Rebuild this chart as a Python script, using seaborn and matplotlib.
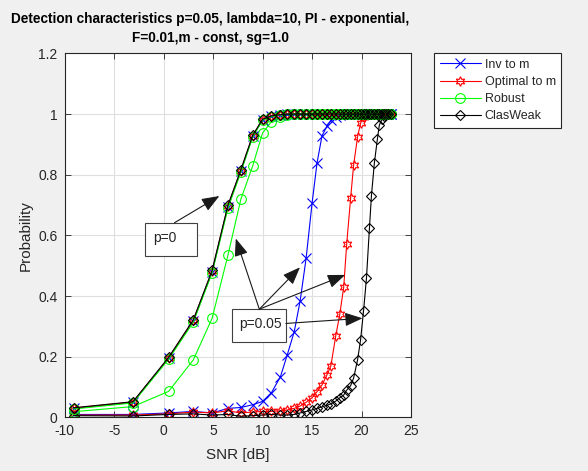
import matplotlib
matplotlib.use("Agg")
import matplotlib.pyplot as plt
from matplotlib.lines import Line2D
from matplotlib.patches import Rectangle
import seaborn as sns

# SNR grid [dB]
snr_db = [-9.1, -3.1, 0.5, 3.0, 4.9, 6.5, 7.8, 9.0, 10.0, 10.9,
          11.8, 12.5, 13.2, 13.8, 14.4, 15.0, 15.5, 16.0, 16.5, 16.9,
          17.4, 17.8, 18.2, 18.5, 18.9, 19.2, 19.6, 19.9, 20.2, 20.5,
          20.8, 21.0, 21.3, 21.6, 21.8, 22.1, 22.3, 22.5, 22.7, 23.0]

# p = 0 (all four detectors almost coincide)
inv_p0 = [0.030, 0.050, 0.195, 0.318, 0.480, 0.695, 0.812, 0.927, 0.982, 0.993,
          0.998, 1.0, 1.0, 1.0, 1.0, 1.0, 1.0, 1.0, 1.0, 1.0,
          1.0, 1.0, 1.0, 1.0, 1.0, 1.0, 1.0, 1.0, 1.0, 1.0,
          1.0, 1.0, 1.0, 1.0, 1.0, 1.0, 1.0, 1.0, 1.0, 1.0]
opt_p0 = [0.031, 0.051, 0.196, 0.320, 0.482, 0.697, 0.814, 0.928, 0.982, 0.994,
          0.998, 1.0, 1.0, 1.0, 1.0, 1.0, 1.0, 1.0, 1.0, 1.0,
          1.0, 1.0, 1.0, 1.0, 1.0, 1.0, 1.0, 1.0, 1.0, 1.0,
          1.0, 1.0, 1.0, 1.0, 1.0, 1.0, 1.0, 1.0, 1.0, 1.0]
rob_p0 = [0.028, 0.048, 0.192, 0.314, 0.477, 0.690, 0.808, 0.924, 0.980, 0.992,
          0.997, 1.0, 1.0, 1.0, 1.0, 1.0, 1.0, 1.0, 1.0, 1.0,
          1.0, 1.0, 1.0, 1.0, 1.0, 1.0, 1.0, 1.0, 1.0, 1.0,
          1.0, 1.0, 1.0, 1.0, 1.0, 1.0, 1.0, 1.0, 1.0, 1.0]
cls_p0 = [0.032, 0.052, 0.198, 0.322, 0.485, 0.700, 0.816, 0.930, 0.983, 0.994,
          0.998, 1.0, 1.0, 1.0, 1.0, 1.0, 1.0, 1.0, 1.0, 1.0,
          1.0, 1.0, 1.0, 1.0, 1.0, 1.0, 1.0, 1.0, 1.0, 1.0,
          1.0, 1.0, 1.0, 1.0, 1.0, 1.0, 1.0, 1.0, 1.0, 1.0]

# p = 0.05
inv_p05 = [0.010, 0.010, 0.015, 0.020, 0.015, 0.030, 0.033, 0.042, 0.053, 0.082,
           0.134, 0.207, 0.283, 0.385, 0.525, 0.706, 0.838, 0.928, 0.960, 0.980,
           0.990, 0.996, 1.0, 1.0, 1.0, 1.0, 1.0, 1.0, 1.0, 1.0,
           1.0, 1.0, 1.0, 1.0, 1.0, 1.0, 1.0, 1.0, 1.0, 1.0]
opt_p05 = [0.008, 0.008, 0.012, 0.018, 0.015, 0.022, 0.015, 0.018, 0.020, 0.020,
           0.022, 0.025, 0.030, 0.038, 0.050, 0.065, 0.085, 0.107, 0.140, 0.170,
           0.270, 0.340, 0.430, 0.572, 0.724, 0.832, 0.925, 0.970, 0.990, 0.997,
           1.0, 1.0, 1.0, 1.0, 1.0, 1.0, 1.0, 1.0, 1.0, 1.0]
rob_p05 = [0.019, 0.036, 0.086, 0.190, 0.327, 0.535, 0.719, 0.829, 0.938, 0.975,
           0.990, 0.997, 1.0, 1.0, 1.0, 1.0, 1.0, 1.0, 1.0, 1.0,
           1.0, 1.0, 1.0, 1.0, 1.0, 1.0, 1.0, 1.0, 1.0, 1.0,
           1.0, 1.0, 1.0, 1.0, 1.0, 1.0, 1.0, 1.0, 1.0, 1.0]
cls_p05 = [0.006, 0.005, 0.010, 0.012, 0.008, 0.010, 0.004, 0.006, 0.008, 0.010,
           0.008, 0.008, 0.010, 0.015, 0.020, 0.025, 0.030, 0.035, 0.040, 0.045,
           0.054, 0.065, 0.074, 0.090, 0.105, 0.130, 0.190, 0.255, 0.350, 0.460,
           0.625, 0.731, 0.840, 0.917, 0.964, 0.985, 0.995, 1.0, 1.0, 1.0]

method_names = ["Inv to m", "Optimal to m", "Robust", "ClasWeak"]

sns.set_theme(style="whitegrid")
plt.rcParams["font.family"] = ["Liberation Sans", "DejaVu Sans"]
plt.rcParams["axes.unicode_minus"] = False

styles = {
    "Inv to m": dict(color="#0000ff", marker="x", markersize=7),
    "Optimal to m": dict(color="#ff0000", marker=(6, 1, 0), markersize=7),
    "Robust": dict(color="#00ff00", marker="o", markersize=7),
    "ClasWeak": dict(color="#000000", marker="D", markersize=5.5),
}

series = [
    ("Inv to m", inv_p05), ("Optimal to m", opt_p05),
    ("Robust", rob_p05), ("ClasWeak", cls_p05),
    ("Inv to m", inv_p0), ("Optimal to m", opt_p0),
    ("Robust", rob_p0), ("ClasWeak", cls_p0),
]

fig = plt.figure(figsize=(5.88, 4.71), dpi=100, facecolor="#f0f0f0")
ax = fig.add_axes([0.110, 0.1136, 0.589, 0.773])
ax.set_facecolor("white")

for name, vals in series:
    st = styles[name]
    sns.lineplot(x=snr_db, y=vals, ax=ax, color=st["color"], marker=st["marker"],
                 markersize=st["markersize"], markerfacecolor="none",
                 markeredgecolor=st["color"], markeredgewidth=0.8,
                 linewidth=0.8, legend=False)

ax.set_xlim(-10, 25)
ax.set_ylim(0, 1.2)
ax.set_xticks([-10, -5, 0, 5, 10, 15, 20, 25])
ax.set_yticks([0, 0.2, 0.4, 0.6, 0.8, 1.0, 1.2])
ax.set_yticklabels(["0", "0.2", "0.4", "0.6", "0.8", "1", "1.2"])
ax.grid(True, color="#dfdfdf", linewidth=0.8)
for sp in ax.spines.values():
    sp.set_color("#262626")
    sp.set_linewidth(0.8)
ax.tick_params(direction="in", length=4, width=0.6, colors="#262626",
               labelsize=10, labelcolor="#262626", top=True, right=True,
               bottom=True, left=True, pad=5)
ax.set_xlabel("SNR [dB]", fontsize=11, color="#262626", labelpad=7)
ax.set_ylabel("Probability", fontsize=11, color="#262626", labelpad=4)

fig.text(0.358, 1 - 19 / 471, "Detection characteristics p=0.05, lambda=10, PI - exponential,",
         ha="center", va="center", fontsize=9.8, fontweight="bold", color="black")
fig.text(0.358, 1 - 38 / 471, "F=0.01,m - const, sg=1.0",
         ha="center", va="center", fontsize=9.8, fontweight="bold", color="black")

# legend
handles = [Line2D([0], [0], color=styles[n]["color"], marker=styles[n]["marker"],
                  markersize=styles[n]["markersize"], markerfacecolor="none",
                  markeredgewidth=0.8, linewidth=0.8) for n in method_names]
leg = fig.legend(handles, method_names, loc="upper left",
                 bbox_to_anchor=(434 / 588, 1 - 53 / 471), fontsize=9,
                 frameon=True, fancybox=False, framealpha=1, edgecolor="#262626",
                 handlelength=3.3, handletextpad=0.3, borderpad=0.45,
                 labelspacing=0.42, borderaxespad=0)
leg.get_frame().set_linewidth(0.8)

# text boxes and arrows
arrow = dict(arrowstyle="-|>,head_length=0.9,head_width=0.35", color="#1a1a1a",
             lw=0.8, shrinkA=0, shrinkB=0)
ax.add_patch(Rectangle((-1.85, 0.532), 5.25, 0.109, facecolor="white",
                       edgecolor="#404040", linewidth=0.8, zorder=5))
ax.text(-1.1, 0.592, "p=0", fontsize=10, ha="left", va="center", zorder=6, color="#262626")
ax.annotate("", xy=(5.63, 0.730), xytext=(1.10, 0.642), arrowprops=arrow, zorder=6)

ax.add_patch(Rectangle((6.91, 0.248), 5.45, 0.109, facecolor="white",
                       edgecolor="#404040", linewidth=0.8, zorder=5))
ax.text(7.65, 0.307, "p=0.05", fontsize=10, ha="left", va="center", zorder=6, color="#262626")
tail = (9.67, 0.357)
for tip in [(7.29, 0.590), (13.78, 0.495), (18.35, 0.470)]:
    ax.annotate("", xy=tip, xytext=tail, arrowprops=arrow, zorder=6)
ax.annotate("", xy=(20.1, 0.327), xytext=(12.36, 0.310), arrowprops=arrow, zorder=6)

fig.savefig("out.png", dpi=100, facecolor=fig.get_facecolor())
